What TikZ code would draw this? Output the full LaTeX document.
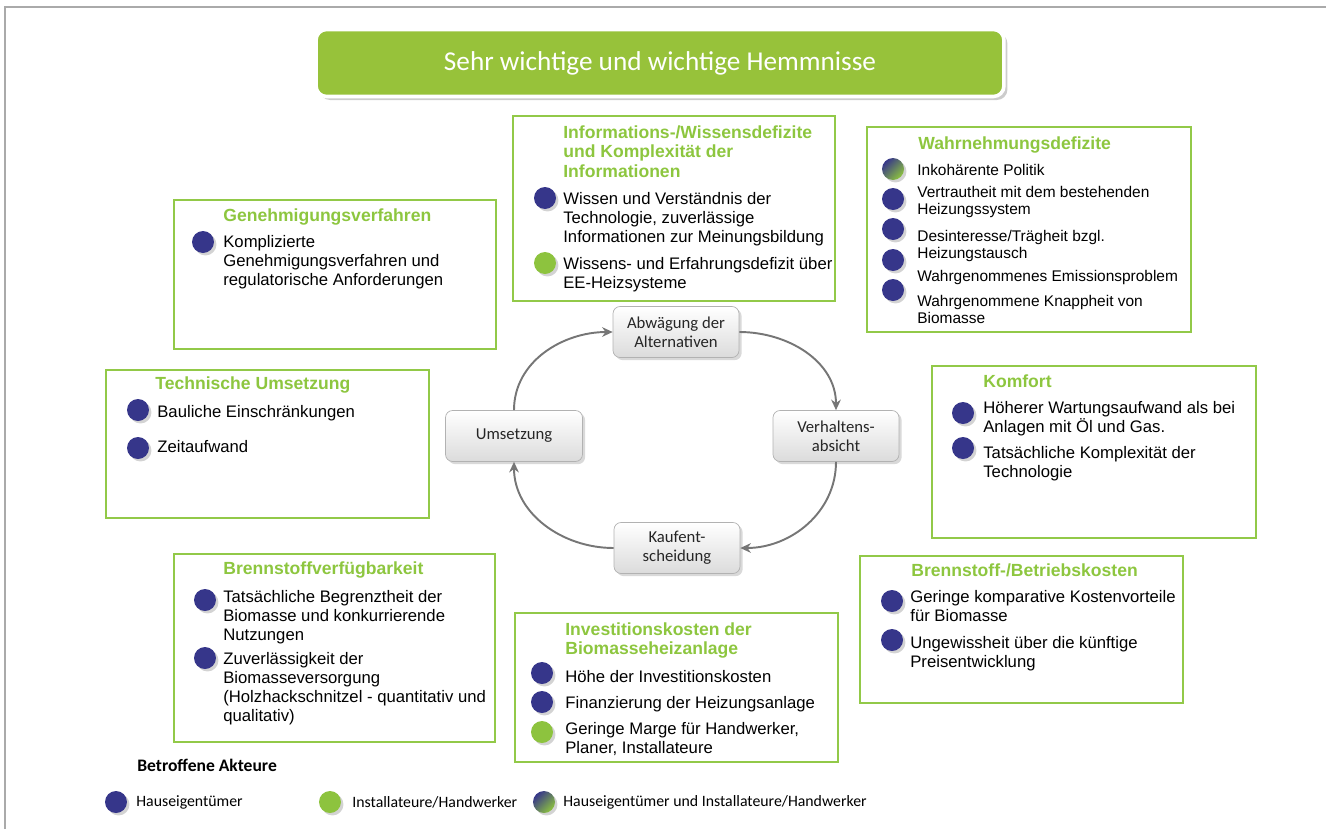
\documentclass[tikz,border=0pt]{standalone}
\usepackage{fontspec}
\setmainfont{Liberation Sans}
\newfontfamily\condfont{Carlito}
\usetikzlibrary{arrows.meta,shadows}

\definecolor{boxgreen}{RGB}{146,201,72}
\definecolor{headgreen}{RGB}{141,198,63}
\definecolor{titlegreen}{RGB}{151,194,58}
\definecolor{ownerblue}{RGB}{54,54,138}
\definecolor{craftgreen}{RGB}{141,195,62}
\definecolor{arrowgrey}{RGB}{118,118,118}
\definecolor{framegrey}{RGB}{170,170,170}

\newcommand{\itemfont}{\fontsize{9.5}{10.8}\selectfont}
\newcommand{\smallitemfont}{\fontsize{8.8}{9.8}\selectfont}
\newcommand{\headfont}{\fontsize{10}{11.3}\selectfont\bfseries}

\tikzset{
  hbox/.style={draw=boxgreen, line width=1.3pt},
  head/.style={anchor=north west, inner sep=0pt, align=left, font=\headfont,
    text=headgreen, execute at begin node=\strut},
  item/.style={anchor=north west, inner sep=0pt, align=left, font=\itemfont,
    execute at begin node=\strut},
  smallitem/.style={item, font=\smallitemfont},
  dotbase/.style={circle, minimum size=0.44cm, inner sep=0pt,
    drop shadow={shadow xshift=1.4pt, shadow yshift=-1.4pt, opacity=0.35}},
  owner/.style={dotbase, fill=ownerblue},
  craft/.style={dotbase, fill=craftgreen},
  both/.style={dotbase, top color=ownerblue, bottom color=craftgreen,
    shading angle=45},
  phase/.style={draw=gray!60, rounded corners=4pt, top color=white,
    bottom color=gray!28, minimum width=2.52cm, minimum height=1.02cm,
    align=center, text=black!85, font=\condfont\fontsize{9.5}{11}\selectfont,
    drop shadow={shadow xshift=1.5pt, shadow yshift=-1.5pt, opacity=0.3}},
  cyc/.style={draw=arrowgrey, line width=1.1pt,
    -{Stealth[length=6pt, width=5.5pt]}},
  legtext/.style={anchor=west, inner sep=0pt, font=\condfont\fontsize{9}{10}\selectfont}
}

\begin{document}
\begin{tikzpicture}[x=0.02cm, y=0.02cm]
  \useasboundingbox (0,0) rectangle (1326,-829);
  % Thin frame at the top and left
  \draw[framegrey, line width=0.7pt] (5,-829) -- (5,-7) -- (1326,-7);

  % Title bar
  \node[fill=titlegreen, draw=white, line width=2pt, rounded corners=6pt,
    minimum width=13.76cm, minimum height=1.34cm, text=white,
    font=\condfont\fontsize{15.5}{17}\selectfont,
    drop shadow={shadow xshift=2pt, shadow yshift=-2pt, opacity=0.4}]
    (title) at (660,-63) {Sehr wichtige und wichtige Hemmnisse};

  % Informations-/Wissensdefizite
  \draw[hbox] (513,-116) rectangle (835,-301);
  \node[head] (infohead) at (563,-125)
    {Informations-/Wissensdefizite\\und Komplexität der\\Informationen};
  \node[owner] (infodot1) at (545,-198) {};
  \node[item] (info1) at (563,-192)
    {Wissen und Verständnis der\\Technologie, zuverlässige\\Informationen zur Meinungsbildung};
  \node[craft] (infodot2) at (545,-263) {};
  \node[item] (info2) at (563,-257) {Wissens- und Erfahrungsdefizit über\\EE-Heizsysteme};

  % Wahrnehmungsdefizite
  \draw[hbox] (867,-127) rectangle (1191,-332);
  \node[head] (perchead) at (918,-135) {Wahrnehmungsdefizite};
  \node[both] (percdot1) at (893,-169) {};
  \node[owner] (percdot2) at (893,-199) {};
  \node[owner] (percdot3) at (893,-229) {};
  \node[owner] (percdot4) at (893,-260) {};
  \node[owner] (percdot5) at (893,-290) {};
  \node[smallitem] (perc1) at (917,-163) {Inkohärente Politik};
  \node[smallitem] (perc2) at (917,-186) {Vertrautheit mit dem bestehenden\\Heizungssystem};
  \node[smallitem] (perc3) at (917,-230) {Desinteresse/Trägheit bzgl.\\Heizungstausch};
  \node[smallitem] (perc4) at (917,-269) {Wahrgenommenes Emissionsproblem};
  \node[smallitem] (perc5) at (917,-295) {Wahrgenommene Knappheit von\\Biomasse};

  % Genehmigungsverfahren
  \draw[hbox] (174,-200) rectangle (496,-349);
  \node[head] (permhead) at (223,-207) {Genehmigungsverfahren};
  \node[owner] (permdot1) at (203,-242) {};
  \node[item] (perm1) at (223,-235)
    {Komplizierte\\Genehmigungsverfahren und\\regulatorische Anforderungen};

  % Technische Umsetzung
  \draw[hbox] (106,-370) rectangle (429,-518);
  \node[head] (techhead) at (155,-375) {Technische Umsetzung};
  \node[owner] (techdot1) at (138,-410) {};
  \node[owner] (techdot2) at (138,-448) {};
  \node[item] (tech1) at (157,-404) {Bauliche Einschränkungen};
  \node[item] (tech2) at (157,-439) {Zeitaufwand};

  % Komfort
  \draw[hbox] (932,-366) rectangle (1256,-538);
  \node[head] (comfhead) at (983,-373) {Komfort};
  \node[owner] (comfdot1) at (963,-413) {};
  \node[owner] (comfdot2) at (963,-448) {};
  \node[item] (comf1) at (983,-401) {Höherer Wartungsaufwand als bei\\Anlagen mit Öl und Gas.};
  \node[item] (comf2) at (983,-446) {Tatsächliche Komplexität der\\Technologie};

  % Brennstoff-/Betriebskosten
  \draw[hbox] (860,-556) rectangle (1183,-703);
  \node[head] (runhead) at (911,-562) {Brennstoff-/Betriebskosten};
  \node[owner] (rundot1) at (892,-601) {};
  \node[owner] (rundot2) at (892,-640) {};
  \node[item] (run1) at (910,-590) {Geringe komparative Kostenvorteile\\für Biomasse};
  \node[item] (run2) at (910,-636) {Ungewissheit über die künftige\\Preisentwicklung};

  % Brennstoffverfuegbarkeit
  \draw[hbox] (174,-554) rectangle (495,-742);
  \node[head] (fuelhead) at (223,-560) {Brennstoffverfügbarkeit};
  \node[owner] (fueldot1) at (205,-600) {};
  \node[owner] (fueldot2) at (205,-658) {};
  \node[item] (fuel1) at (223,-590)
    {Tatsächliche Begrenztheit der\\Biomasse und konkurrierende\\Nutzungen};
  \node[item] (fuel2) at (223,-652)
    {Zuverlässigkeit der\\Biomasseversorgung\\(Holzhackschnitzel - quantitativ und\\qualitativ)};

  % Investitionskosten
  \draw[hbox] (515,-613) rectangle (838,-762);
  \node[head] (invhead) at (565,-622) {Investitionskosten der\\Biomasseheizanlage};
  \node[owner] (invdot1) at (542,-673) {};
  \node[owner] (invdot2) at (542,-702) {};
  \node[craft] (invdot3) at (542,-732) {};
  \node[item] (inv1) at (565,-669) {Höhe der Investitionskosten};
  \node[item] (inv2) at (565,-695) {Finanzierung der Heizungsanlage};
  \node[item] (inv3) at (565,-722) {Geringe Marge für Handwerker,\\Planer, Installateure};

  % Decision cycle
  \node[phase] (abw) at (676,-332) {Abwägung der\\Alternativen};
  \node[phase] (verh) at (836,-436) {Verhaltens-\\absicht};
  \node[phase] (kauf) at (677,-548) {Kaufent-\\scheidung};
  \node[phase, minimum width=2.74cm] (ums) at (514,-436) {Umsetzung};
  \draw[cyc] (abw.east) to[out=0, in=90] (verh.north);
  \draw[cyc] (verh.south) to[out=-90, in=0] (kauf.east);
  \draw[cyc] (kauf.west) to[out=180, in=-90] (ums.south);
  \draw[cyc] (ums.north) to[out=90, in=180] (abw.west);

  % Legend
  \node[legtext, font=\condfont\fontsize{10}{11}\selectfont\bfseries] (leghead) at (137,-765)
    {Betroffene Akteure};
  \node[owner] (legdot1) at (116,-802) {};
  \node[legtext] (leg1) at (136,-802) {Hauseigentümer};
  \node[craft] (legdot2) at (330,-802) {};
  \node[legtext] (leg2) at (352,-802) {Installateure/Handwerker};
  \node[both] (legdot3) at (544,-802) {};
  \node[legtext] (leg3) at (563,-802) {Hauseigentümer und Installateure/Handwerker};
\end{tikzpicture}
\end{document}
